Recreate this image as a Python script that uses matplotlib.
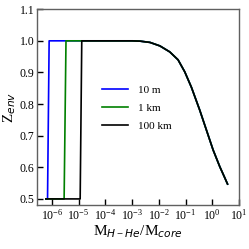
import numpy as np
import matplotlib
matplotlib.use("Agg")
import matplotlib.pyplot as plt

plt.rcParams['font.family'] = 'Liberation Serif'
plt.rcParams['mathtext.fontset'] = 'custom'
plt.rcParams['mathtext.rm'] = 'Liberation Serif'
plt.rcParams['mathtext.it'] = 'DejaVu Sans:italic'

# shared envelope curve (log10 of M_H-He/M_core, Z_env)
curve_logm = [-4.0, -3.0, -2.7, -2.33, -1.96, -1.59, -1.28, -1.03, -0.78, -0.47, -0.22, 0.03, 0.28, 0.45, 0.57]
curve_z = [1.0, 1.0, 0.999, 0.995, 0.984, 0.965, 0.94, 0.902, 0.853, 0.781, 0.718, 0.655, 0.602, 0.57, 0.547]

# start of each run and the jump from 0.5 to 1.0
start_logm = -6.22
jump_low = {'10 m': -6.16, '1 km': -5.54, '100 km': -4.94}
jump_high = {'10 m': -6.10, '1 km': -5.47, '100 km': -4.88}
colors = {'10 m': '#0000ff', '1 km': '#008000', '100 km': 'black'}

fig = plt.figure(figsize=(2.49, 2.49), dpi=100)
ax = fig.add_axes([0.149, 0.177, 0.811, 0.786])

for name in ['10 m', '1 km', '100 km']:
    lm = [start_logm, jump_low[name], jump_high[name]] + curve_logm
    z = [0.5, 0.5, 1.0] + curve_z
    ax.plot(10 ** np.array(lm), z, color=colors[name], lw=1.2, label=name)

ax.set_xscale('log')
ax.set_xlim(10 ** -6.55, 10)
ax.set_ylim(0.481, 1.1)
ax.set_xticks([10.0 ** k for k in range(-6, 2)])
ax.xaxis.set_minor_locator(matplotlib.ticker.NullLocator())
ax.set_yticks([0.5, 0.6, 0.7, 0.8, 0.9, 1.0, 1.1])
ax.set_yticklabels(['0.5', '0.6', '0.7', '0.8', '0.9', '1.0', '1.1'])
ax.tick_params(direction='in', length=4, width=1, labelsize=8.5, pad=2)
for s in ax.spines.values():
    s.set_color('#606060')
    s.set_linewidth(1.0)

ax.set_xlabel('M$_{H-He}$/M$_{core}$', fontsize=11, labelpad=1)
ax.set_ylabel('Z$_{env}$', fontsize=11, labelpad=1)

ax.legend(loc='upper left', bbox_to_anchor=(0.27, 0.665), frameon=False, fontsize=8,
          handlelength=2.4, labelspacing=0.75, handletextpad=0.9)

plt.savefig('out.png', dpi=100)
